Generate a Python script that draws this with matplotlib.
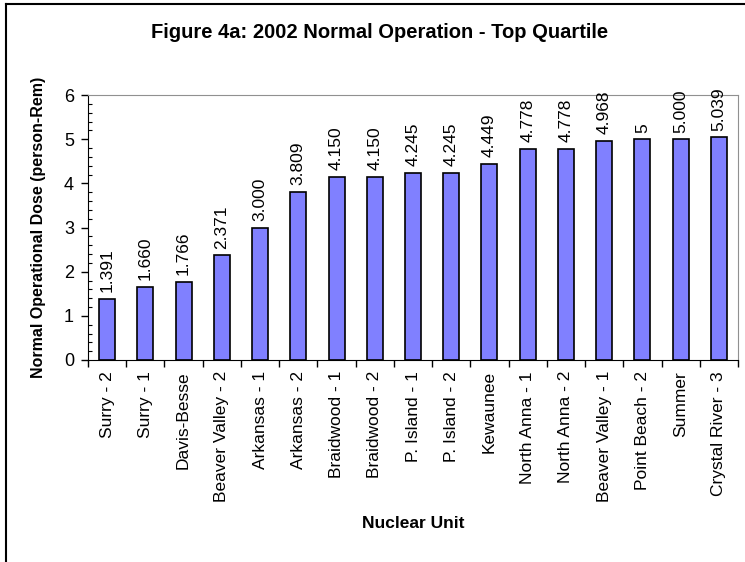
import matplotlib.pyplot as plt
from matplotlib.lines import Line2D
from matplotlib.ticker import MultipleLocator

plt.rcParams['font.family'] = ['Liberation Sans', 'DejaVu Sans']

# %% Data

units = ['Surry - 2', 'Surry - 1', 'Davis-Besse', 'Beaver Valley - 2',
         'Arkansas - 1', 'Arkansas - 2', 'Braidwood - 1', 'Braidwood - 2',
         'P. Island - 1', 'P. Island - 2', 'Kewaunee', 'North Anna - 1',
         'North Anna - 2', 'Beaver Valley - 1', 'Point Beach - 2', 'Summer',
         'Crystal River - 3']
dose = [1.391, 1.660, 1.766, 2.371, 3.000, 3.809, 4.150, 4.150, 4.245,
        4.245, 4.449, 4.778, 4.778, 4.968, 5.0, 5.000, 5.039]
dose_labels = ['1.391', '1.660', '1.766', '2.371', '3.000', '3.809', '4.150',
               '4.150', '4.245', '4.245', '4.449', '4.778', '4.778', '4.968',
               '5', '5.000', '5.039']

# %% Plot

fig = plt.figure(figsize=(7.45, 5.62), dpi=100)
W, H = 745, 562
ax = fig.add_axes([88 / W, 1 - 360 / H, (738 - 88) / W, (360 - 95) / H])

x = range(len(units))
ax.bar(x, dose, width=0.42, color='#8080FF', edgecolor='black', linewidth=1.2)
for i, (v, lab) in enumerate(zip(dose, dose_labels)):
    ax.text(i, v + 0.15, lab, rotation=90, ha='center', va='bottom', fontsize=12.5)

ax.set_xlim(-0.5, len(units) - 0.5)
ax.set_ylim(0, 6)
ax.yaxis.set_major_locator(MultipleLocator(1))
ax.yaxis.set_minor_locator(MultipleLocator(0.2))
ax.set_xticks([i - 0.5 for i in range(len(units) + 1)])
ax.set_xticklabels([])
ax.set_xticks(list(x), minor=True)
ax.set_xticklabels(units, minor=True, rotation=90, fontsize=12.5)
ax.tick_params(axis='x', which='minor', length=0, pad=8)
ax.tick_params(axis='x', which='major', length=5, direction='out', width=1)
ax.tick_params(axis='y', which='major', length=5, direction='out', width=1,
               labelsize=13, pad=5)
ax.tick_params(axis='y', which='minor', length=3, direction='in', width=0.8)

for s in ['top', 'right']:
    ax.spines[s].set_color('#909090')
for s in ['left', 'bottom']:
    ax.spines[s].set_color('black')

ax.set_ylabel('Normal Operational Dose (person-Rem)', fontsize=11.5,
              fontweight='bold', labelpad=13)
fig.text(413 / W, 1 - 523 / H, 'Nuclear Unit', ha='center', va='center',
         fontsize=12.5, fontweight='bold')
fig.text(380 / W, 1 - 33 / H, 'Figure 4a: 2002 Normal Operation - Top Quartile',
         ha='center', va='center', fontsize=14.5, fontweight='bold')

# border of the chart area (top and left only)
fig.add_artist(Line2D([6 / W, 1], [1 - 4 / H, 1 - 4 / H], color='black', lw=1.5))
fig.add_artist(Line2D([6 / W, 6 / W], [0, 1 - 4 / H], color='black', lw=1.5))

fig.savefig('out.png', dpi=100)
